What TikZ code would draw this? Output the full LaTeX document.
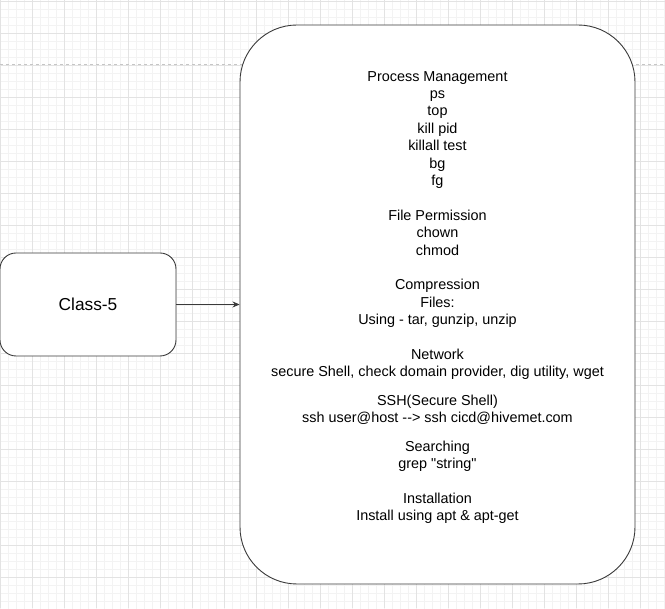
\documentclass[tikz,border=0pt]{standalone}
\usepackage{fontspec}
\setmainfont{Liberation Sans}[Ligatures=TeXOff]
\usetikzlibrary{arrows.meta}

\definecolor{gridminor}{HTML}{F3F3F3}
\definecolor{gridmajor}{HTML}{E3E3E3}
\definecolor{edgegray}{HTML}{3A3A3A}

\begin{document}
\begin{tikzpicture}[x=1pt,y=1pt,
    box/.style={draw=edgegray, line width=0.9pt, fill=white, align=center}]
    \useasboundingbox (0,0) rectangle (665,609);
    \fill[white] (0,0) rectangle (665,609); % page
    \draw[gridminor, line width=0.5pt, step=8pt] (0pt,0pt) grid (665pt,609pt); % small grid
    \draw[gridmajor, line width=0.6pt, step=32pt] (0pt,1pt) grid (665pt,609pt); % big grid
    \draw[gray!45, dashed, line width=0.6pt] (0,545) -- (665,545); % page break

    \node[box, minimum width=176pt, minimum height=103pt, rounded corners=16pt,
          font=\fontsize{17.3}{20.8}\selectfont] (class) at (88,304.5) {Class-5};
    \node[box, minimum width=395pt, minimum height=559pt, rounded corners=57pt] (topics) at (437.5,304.5) {};
    \node[align=center, font=\fontsize{14.4}{17.4}\selectfont] (topicstext) at ([yshift=7pt]topics.center) {%
        Process Management\\ps\\top\\kill pid\\killall test\\bg\\fg\\[17.4pt]
        File Permission\\chown\\chmod\\[17.4pt]
        Compression\\Files:\\Using - tar, gunzip, unzip\\[17.4pt]
        Network\\secure Shell, check domain provider, dig utility, wget\\[11pt]
        SSH(Secure Shell)\\ssh user@host --> ssh cicd@hivemet.com\\[11pt]
        Searching\\grep "string"\\[17.4pt]
        Installation\\Install using apt \& apt-get};

    \draw[edgegray, line width=0.8pt, -{Stealth[length=7pt,width=6pt]}] (class) -- (topics); % link
\end{tikzpicture}
\end{document}
